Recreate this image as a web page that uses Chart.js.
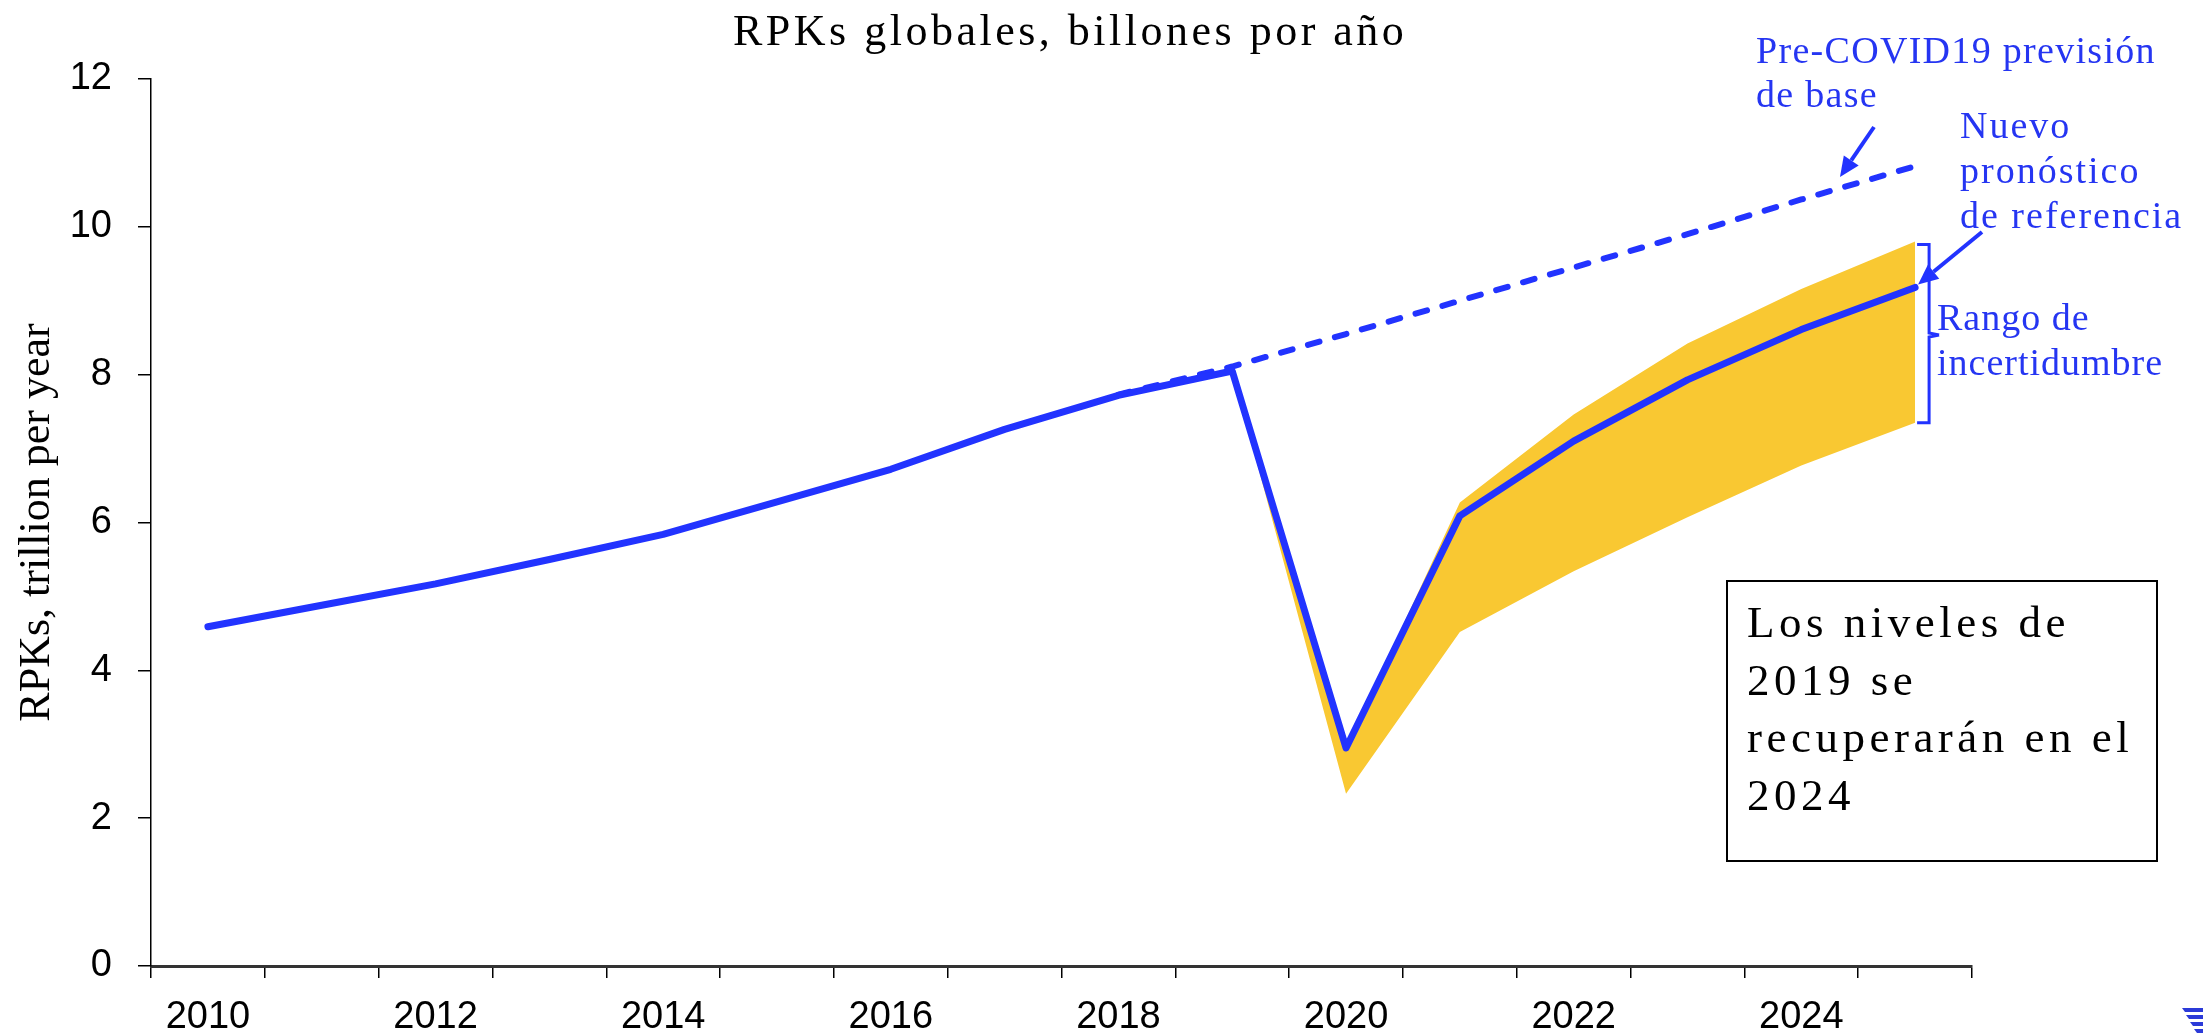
<!DOCTYPE html>
<html><head><meta charset="utf-8">
<script src="https://cdn.jsdelivr.net/npm/chart.js@4.4.0/dist/chart.umd.min.js"></script>
<style>html,body{margin:0;padding:0;background:#fff;overflow:hidden}canvas{display:block}</style>
</head><body>
<canvas id="c" width="2203" height="1036" style="width:2203px;height:1036px"></canvas>
<script>
// ---- data ----
const years = ['2010','2011','2012','2013','2014','2015','2016','2017','2018','2019','2020','2021','2022','2023','2024','2025'];
const xLabelYears = ['2010','2012','2014','2016','2018','2020','2022','2024'];
const yTicks = [0, 2, 4, 6, 8, 10, 12];
const rpkForecast = [4.59, 4.88, 5.17, 5.50, 5.84, 6.28, 6.72, 7.26, 7.72, 8.05, 2.95, 6.09, 7.10, 7.93, 8.61, 9.18];
const preCovidBaseline = [null, null, null, null, null, null, null, null, 7.73, 8.11, 8.55, 9.00, 9.45, 9.90, 10.37, 10.82];
const rangeHigh = [null, null, null, null, null, null, null, null, null, 8.05, 2.95, 6.27, 7.46, 8.42, 9.16, 9.80];
const rangeLow  = [null, null, null, null, null, null, null, null, null, 8.05, 2.33, 4.52, 5.34, 6.07, 6.77, 7.35];

const chartTitle = 'RPKs globales, billones por año';
const yTitle = 'RPKs, trillion per year';
const noteLines = ['Los niveles de', '2019 se', 'recuperarán en el', '2024'];
const labelPre = ['Pre-COVID19 previsión', 'de base'];
const labelNew = ['Nuevo', 'pronóstico', 'de referencia'];
const labelRange = ['Rango de', 'incertidumbre'];

const BLUE = '#2233FF';
const TEXT_BLUE = '#2535F2';
const YELLOW = '#F9C832';

function arrow(ctx, x1, y1, x2, y2, color) {
  const a = Math.atan2(y2 - y1, x2 - x1);
  const hl = 20, hw = 9;
  const bx = x2 - hl * Math.cos(a), by = y2 - hl * Math.sin(a);
  ctx.strokeStyle = color; ctx.fillStyle = color; ctx.lineWidth = 4; ctx.lineCap = 'butt';
  ctx.beginPath(); ctx.moveTo(x1, y1); ctx.lineTo(bx, by); ctx.stroke();
  ctx.beginPath();
  ctx.moveTo(x2, y2);
  ctx.lineTo(bx + hw * Math.sin(a), by - hw * Math.cos(a));
  ctx.lineTo(bx - hw * Math.sin(a), by + hw * Math.cos(a));
  ctx.closePath(); ctx.fill();
}

const overlay = {
  id: 'overlay',
  afterDraw(chart) {
    const ctx = chart.ctx;
    const xs = chart.scales.x, ys = chart.scales.y;
    const last = years.length - 1;
    ctx.save();
    ctx.textBaseline = 'alphabetic';
    ctx.textAlign = 'left';
    // title
    ctx.fillStyle = '#000';
    ctx.font = '44px "Liberation Serif"';
    ctx.letterSpacing = '3.5px';
    ctx.fillText(chartTitle, 733, 45);

    // blue annotations
    ctx.fillStyle = TEXT_BLUE;
    ctx.font = '38px "Liberation Serif"';
    ctx.letterSpacing = '1.3px';
    labelPre.forEach((t, i) => ctx.fillText(t, 1756, 63 + i * 44));
    ctx.letterSpacing = '2px';
    labelNew.forEach((t, i) => ctx.fillText(t, 1960, 138 + i * 45));
    ctx.letterSpacing = '1px';
    labelRange.forEach((t, i) => ctx.fillText(t, 1937, 330 + i * 45));
    ctx.letterSpacing = '0px';

    // arrows
    arrow(ctx, 1874, 127, 1840, 177, BLUE);
    const ex = xs.getPixelForValue(last), ey = ys.getPixelForValue(rpkForecast[last]);
    arrow(ctx, 1982, 232, ex + 3, ey - 3, BLUE);

    // bracket for the uncertainty range
    const bx = ex + 14;
    const top = ys.getPixelForValue(rangeHigh[last]) + 3;
    const bot = ys.getPixelForValue(rangeLow[last]);
    const mid = 335;
    ctx.strokeStyle = BLUE; ctx.lineWidth = 3; ctx.lineCap = 'butt';
    ctx.beginPath();
    ctx.moveTo(bx - 12, top); ctx.lineTo(bx, top); ctx.lineTo(bx, mid - 2); ctx.lineTo(bx + 10, mid);
    ctx.moveTo(bx + 10, mid); ctx.lineTo(bx, mid + 2); ctx.lineTo(bx, bot); ctx.lineTo(bx - 12, bot);
    ctx.stroke();

    // note box
    ctx.strokeStyle = '#000'; ctx.lineWidth = 2;
    ctx.strokeRect(1727, 581, 430, 280);
    ctx.fillStyle = '#000';
    ctx.font = '45px "Liberation Serif"';
    ctx.letterSpacing = '4.5px';
    noteLines.forEach((t, i) => ctx.fillText(t, 1747, 637 + i * 57.5));
    ctx.letterSpacing = '0px';

    // partial logo at the bottom-right edge
    ctx.fillStyle = '#2B3AD8';
    for (let k = 0; k < 4; k++) {
      const yy = 1008 + k * 7;
      ctx.beginPath();
      ctx.moveTo(2182 + k * 4, yy); ctx.lineTo(2203, yy); ctx.lineTo(2203, yy + 4); ctx.lineTo(2185 + k * 4, yy + 4);
      ctx.closePath(); ctx.fill();
    }
    ctx.restore();
  }
};

new Chart(document.getElementById('c'), {
  type: 'line',
  data: {
    labels: years,
    datasets: [
      { label: 'Nuevo pronóstico de referencia', data: rpkForecast, borderColor: BLUE, borderWidth: 7,
        pointRadius: 0, tension: 0, fill: false, borderCapStyle: 'round', borderJoinStyle: 'round' },
      { label: 'Pre-COVID19 previsión de base', data: preCovidBaseline, borderColor: BLUE, borderWidth: 6,
        borderDash: [12, 16], borderCapStyle: 'round', pointRadius: 0, tension: 0, fill: false },
      { label: 'Rango alto', data: rangeHigh, borderWidth: 0, borderColor: 'rgba(0,0,0,0)', pointRadius: 0,
        tension: 0, fill: '+1', backgroundColor: YELLOW },
      { label: 'Rango bajo', data: rangeLow, borderWidth: 0, borderColor: 'rgba(0,0,0,0)', pointRadius: 0,
        tension: 0, fill: false }
    ]
  },
  options: {
    responsive: false,
    animation: false,
    events: [],
    layout: { padding: { top: 79, right: 231, left: 0, bottom: 0 } },
    plugins: { legend: { display: false }, title: { display: false }, tooltip: { enabled: false } },
    scales: {
      x: {
        type: 'category',
        offset: true,
        grid: { offset: true, drawOnChartArea: false, tickLength: 12, color: '#000', lineWidth: 1.5 },
        border: { color: '#333', width: 3 },
        ticks: {
          autoSkip: false, maxRotation: 0, minRotation: 0, padding: 17, color: '#000',
          font: { family: '"Liberation Sans"', size: 38 },
          callback: (v, i) => xLabelYears.includes(years[i]) ? years[i] : ''
        },
        afterFit: s => { s.height = 70; }
      },
      y: {
        min: 0, max: 12,
        afterBuildTicks: s => { s.ticks = yTicks.map(v => ({ value: v })); },
        grid: { drawOnChartArea: false, tickLength: 13, color: '#000', lineWidth: 1.5 },
        border: { color: '#000', width: 1.5 },
        ticks: { padding: 26, color: '#000', font: { family: '"Liberation Sans"', size: 38 } },
        title: { display: true, text: yTitle, color: '#000', padding: { top: 11, bottom: 0 },
                 font: { family: '"Liberation Serif"', size: 44 } },
        afterFit: s => { s.width = 151; }
      }
    }
  },
  plugins: [overlay]
});
</script>
</body></html>
